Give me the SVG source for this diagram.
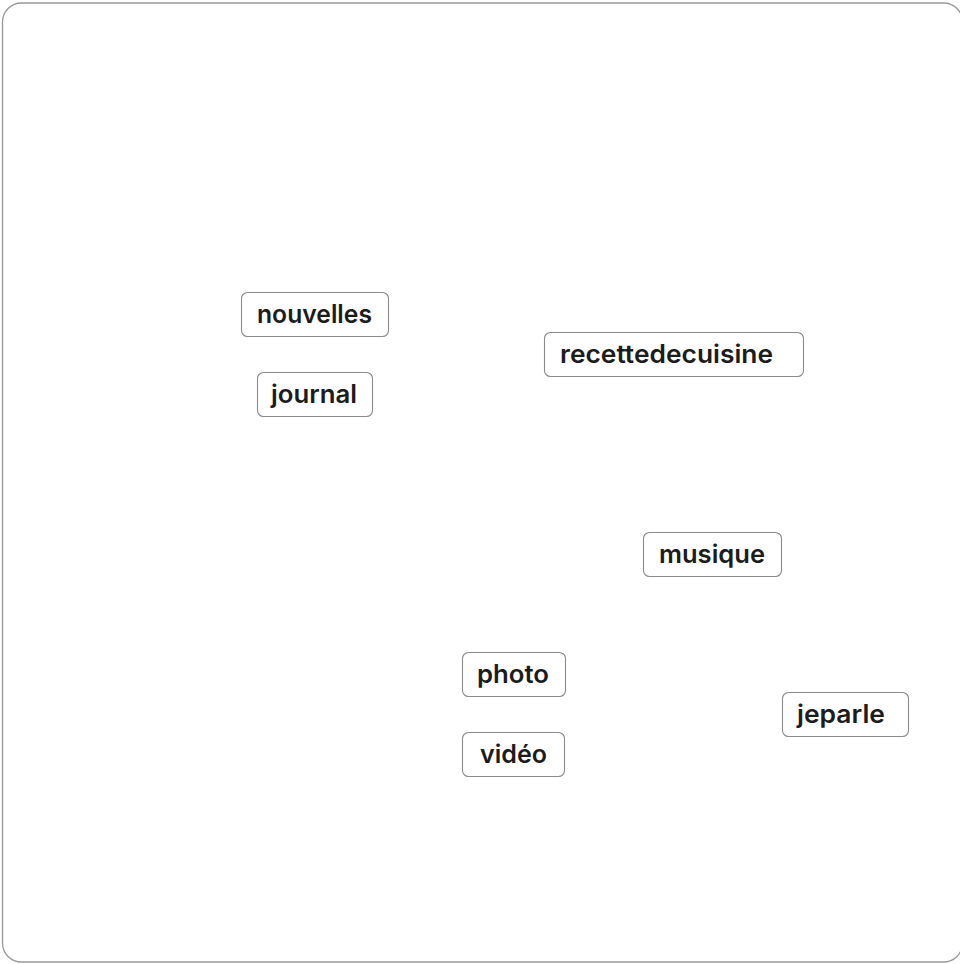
<svg xmlns="http://www.w3.org/2000/svg" width="960" height="964" viewBox="0 0 960 964">
<style>
.frame{fill:#fff;stroke:#999;stroke-width:1.3}
.box{fill:#fff;stroke:#8a8a8a;stroke-width:1.1}
.lbl{font-family:Inter,"Liberation Sans",sans-serif;font-weight:600;font-size:25px;fill:#1c1c1c}
</style>
<rect class="frame" x="2.5" y="3" width="960" height="959" rx="19"/>
<g id="connectors"></g>
<g id="nouvelles"><rect class="box" x="241.5" y="292.5" width="147" height="44" rx="6"/><text class="lbl" x="257" y="323" textLength="115" lengthAdjust="spacingAndGlyphs">nouvelles</text></g>
<g id="journal"><rect class="box" x="257.5" y="372.5" width="115" height="44" rx="6"/><text class="lbl" x="271" y="403" textLength="86" lengthAdjust="spacingAndGlyphs">journal</text></g>
<g id="recettedecuisine"><rect class="box" x="544.5" y="332.5" width="259" height="44" rx="6"/><text class="lbl" x="560" y="363" textLength="213" lengthAdjust="spacingAndGlyphs">recettedecuisine</text></g>
<g id="musique"><rect class="box" x="643.5" y="532.5" width="138" height="44" rx="6"/><text class="lbl" x="659" y="563" textLength="106" lengthAdjust="spacingAndGlyphs">musique</text></g>
<g id="photo"><rect class="box" x="462.5" y="652.5" width="103" height="44" rx="6"/><text class="lbl" x="477" y="683" textLength="72" lengthAdjust="spacingAndGlyphs">photo</text></g>
<g id="video"><rect class="box" x="462.5" y="732.5" width="102" height="44" rx="6"/><text class="lbl" x="480" y="763" textLength="67" lengthAdjust="spacingAndGlyphs">vidéo</text></g>
<g id="jeparle"><rect class="box" x="782.5" y="692.5" width="126" height="44" rx="6"/><text class="lbl" x="797" y="723" textLength="88" lengthAdjust="spacingAndGlyphs">jeparle</text></g>
</svg>
